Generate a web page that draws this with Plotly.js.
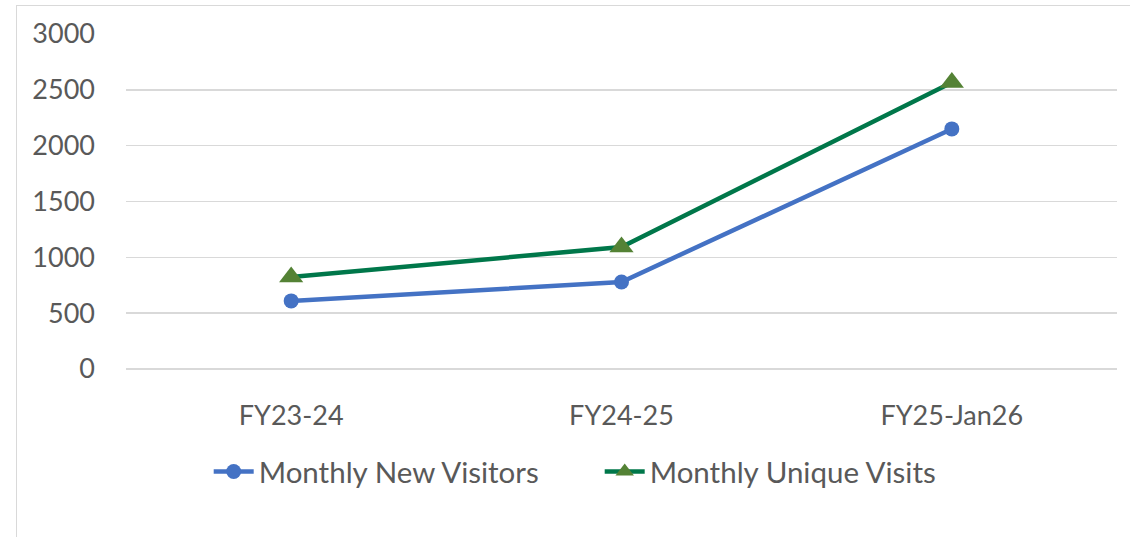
<!DOCTYPE html>
<html><head><meta charset="utf-8">
<script src="https://cdn.plot.ly/plotly-3.0.1.min.js"></script>
<style>
html,body{margin:0;padding:0;background:#fff;}
#wrap{position:relative;width:1130px;height:537px;}
#chart{width:1130px;height:537px;}
#border{position:absolute;left:16px;top:5px;width:1130px;height:600px;border:1px solid #D9D9D9;pointer-events:none;box-sizing:border-box;}
</style></head>
<body>
<div id="wrap"><div id="chart"></div><div id="border"></div></div>
<script>
const categories = ["FY23-24", "FY24-25", "FY25-Jan26"];
const newVisitors = [610, 779, 2150];
const uniqueVisits = [824, 1092, 2565];
const yTicks = [0, 500, 1000, 1500, 2000, 2500, 3000];

const font = {family: "Lato, 'Open Sans', sans-serif", size: 27, color: "#595959"};
const legendFont = {family: "Lato, 'Open Sans', sans-serif", size: 29.5, color: "#595959"};

const traces = [
  {x: categories, y: newVisitors, name: "Monthly New Visitors", type: "scatter", mode: "lines+markers",
   line: {color: "#4472C4", width: 4.5}, marker: {symbol: "circle", size: 15, color: "#4472C4"}},
  {x: categories, y: uniqueVisits, name: "Monthly Unique Visits", type: "scatter", mode: "lines+markers",
   line: {color: "#00774A", width: 4.5}, marker: {symbol: "triangle-up", size: 21, color: "#548235"}}
];

const layout = {
  width: 1130, height: 537,
  margin: {l: 126, r: 13, t: 34, b: 168},
  paper_bgcolor: "#fff", plot_bgcolor: "#fff",
  font: font,
  showlegend: true,
  legend: {orientation: "h", x: 0.478, xanchor: "center", y: -0.307, yanchor: "middle",
           font: legendFont, itemwidth: 40, entrywidth: 336, entrywidthmode: "pixels",
           bgcolor: "rgba(0,0,0,0)"},
  xaxis: {type: "category", range: [-0.5, 2.5], showgrid: false, zeroline: false, showline: false,
          ticks: "", ticklabelstandoff: 28, tickfont: font},
  yaxis: {range: [0, 3000], tickvals: yTicks, ticktext: yTicks.map(String), showgrid: true,
          gridcolor: "#D9D9D9", gridwidth: 1.5, zeroline: true, zerolinecolor: "#D9D9D9",
          zerolinewidth: 1.5, showline: false, ticks: "",
          ticklabelstandoff: 30, tickfont: font}
};

Plotly.newPlot("chart", traces, layout, {displayModeBar: false, staticPlot: true});
</script>
</body></html>
